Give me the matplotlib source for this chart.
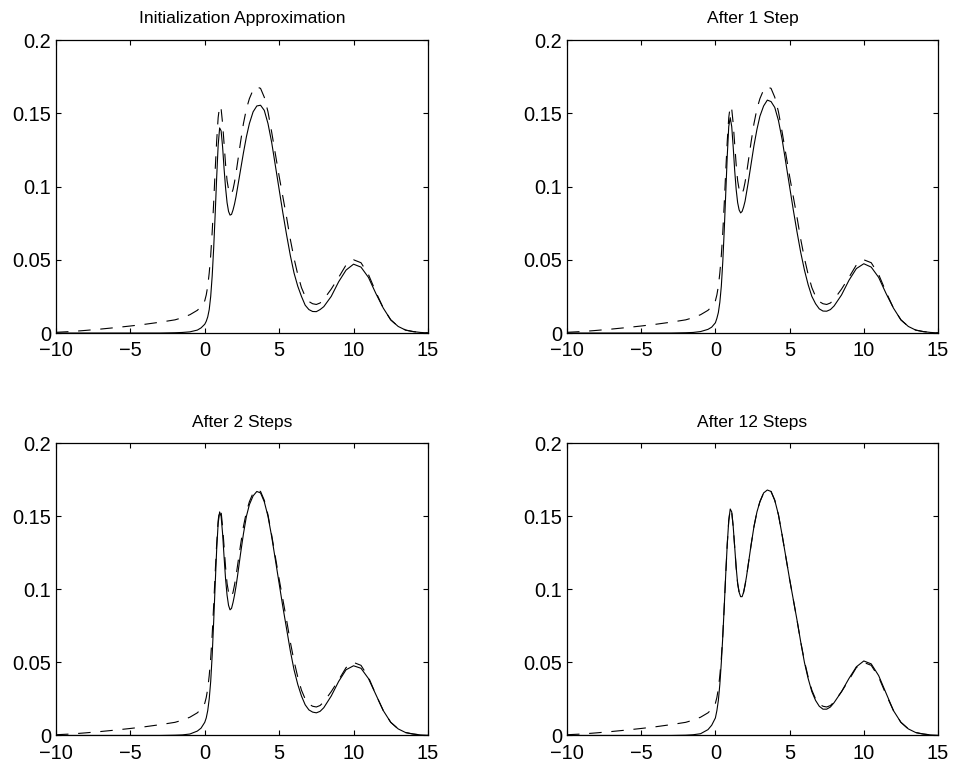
import matplotlib
matplotlib.use("Agg")
import matplotlib.pyplot as plt
from matplotlib.ticker import FixedLocator, FixedFormatter

plt.rcParams['font.family'] = ['Liberation Sans', 'DejaVu Sans']
plt.rcParams['lines.scale_dashes'] = False

# Sample positions shared by every curve
x = [-10, -9, -8, -7, -6, -5, -4, -3, -2, -1.5, -1, -0.5, -0.25,
     0.0, 0.1, 0.2, 0.3, 0.4, 0.5, 0.6, 0.7, 0.8, 0.9, 1.0, 1.1, 1.2, 1.3,
     1.4, 1.5, 1.6, 1.7, 1.8, 1.9, 2.0, 2.1, 2.2,
     2.4, 2.6, 2.8, 3.0,
     3.25, 3.5, 3.75, 4.0, 4.25, 4.5, 4.75, 5.0, 5.25, 5.5, 5.75, 6.0, 6.25,
     6.5, 6.75, 7.0, 7.25, 7.5, 7.75, 8.0,
     8.5, 9.0, 9.5, 10.0, 10.5, 11.0, 11.5, 12.0, 12.5, 13.0, 13.5, 14.0,
     14.5, 15.0]

# Target density (dashed)
target = [0.0005, 0.001, 0.0018, 0.0027, 0.0037, 0.0048, 0.006, 0.0074, 0.009,
          0.0105, 0.0125, 0.0155, 0.018,
          0.022, 0.026, 0.032, 0.041, 0.053, 0.069, 0.089, 0.111, 0.131, 0.147,
          0.155, 0.153, 0.143, 0.129, 0.115, 0.104, 0.098, 0.095, 0.095,
          0.098, 0.103, 0.109, 0.116,
          0.130, 0.143, 0.153, 0.160,
          0.166, 0.168, 0.167, 0.161, 0.151, 0.137, 0.122, 0.107, 0.093,
          0.079, 0.064, 0.051, 0.040, 0.031, 0.025, 0.0215, 0.020, 0.0195,
          0.0205, 0.023,
          0.030, 0.038, 0.0465, 0.050, 0.048, 0.040, 0.028, 0.017, 0.009,
          0.0045, 0.002, 0.001, 0.0004, 0.0001]

# Approximations after successive steps (solid)
init_approx = [0, 0, 0, 0, 0, 0, 0, 0, 0.0002, 0.0004, 0.0008, 0.002, 0.0035,
               0.006, 0.008, 0.011, 0.016, 0.025, 0.039, 0.058, 0.081, 0.106,
               0.128, 0.140, 0.138, 0.127, 0.112, 0.099, 0.089, 0.083, 0.0805,
               0.081, 0.084, 0.088, 0.093, 0.099,
               0.111, 0.123, 0.134, 0.143,
               0.151, 0.155, 0.1555, 0.152, 0.143, 0.130, 0.114, 0.098, 0.082,
               0.067, 0.053, 0.041, 0.032, 0.025, 0.019, 0.016, 0.0147, 0.0146,
               0.016, 0.018,
               0.025, 0.035, 0.043, 0.047, 0.045, 0.038, 0.027, 0.017, 0.009,
               0.0045, 0.002, 0.001, 0.0004, 0.0001]

step_1 = [0, 0, 0, 0, 0, 0, 0, 0, 0.0002, 0.0004, 0.001, 0.0025, 0.004,
          0.007, 0.010, 0.014, 0.021, 0.032, 0.049, 0.071, 0.096, 0.121, 0.141,
          0.147, 0.141, 0.127, 0.111, 0.098, 0.089, 0.084, 0.082, 0.083,
          0.086, 0.090, 0.096, 0.102,
          0.115, 0.128, 0.139, 0.148,
          0.155, 0.159, 0.158, 0.154, 0.145, 0.132, 0.116, 0.100, 0.084,
          0.069, 0.055, 0.043, 0.033, 0.025, 0.020, 0.0165, 0.015, 0.0149,
          0.016, 0.0185,
          0.026, 0.036, 0.044, 0.0473, 0.045, 0.038, 0.027, 0.017, 0.009,
          0.0045, 0.002, 0.001, 0.0004, 0.0001]

step_2 = [0, 0, 0, 0, 0, 0, 0, 0, 0.0002, 0.0004, 0.001, 0.003, 0.005,
          0.009, 0.012, 0.017, 0.025, 0.037, 0.055, 0.078, 0.103, 0.127, 0.145,
          0.153, 0.150, 0.138, 0.122, 0.107, 0.096, 0.089, 0.086, 0.087,
          0.091, 0.096, 0.102, 0.109,
          0.124, 0.138, 0.150, 0.158,
          0.164, 0.167, 0.166, 0.160, 0.150, 0.136, 0.120, 0.104, 0.088,
          0.073, 0.058, 0.045, 0.035, 0.027, 0.021, 0.0175, 0.016, 0.0155,
          0.0165, 0.019,
          0.027, 0.037, 0.045, 0.0477, 0.046, 0.039, 0.028, 0.017, 0.009,
          0.0045, 0.002, 0.001, 0.0004, 0.0001]

step_12 = [0, 0, 0, 0, 0, 0, 0, 0, 0.0002, 0.0005, 0.0012, 0.004, 0.007,
           0.012, 0.017, 0.024, 0.035, 0.050, 0.068, 0.089, 0.111, 0.131,
           0.147, 0.155, 0.153, 0.143, 0.129, 0.115, 0.104, 0.098, 0.095,
           0.095, 0.098, 0.103, 0.109, 0.116,
           0.130, 0.143, 0.153, 0.160,
           0.166, 0.168, 0.167, 0.161, 0.151, 0.137, 0.122, 0.107, 0.093,
           0.079, 0.064, 0.050, 0.039, 0.030, 0.024, 0.020, 0.018, 0.018,
           0.0195, 0.0225,
           0.030, 0.039, 0.047, 0.051, 0.049, 0.041, 0.029, 0.017, 0.009,
           0.0045, 0.002, 0.001, 0.0004, 0.0001]

titles = ["Initialization Approximation", "After 1 Step",
          "After 2 Steps", "After 12 Steps"]
approximations = [init_approx, step_1, step_2, step_12]

xticks = [-10, -5, 0, 5, 10, 15]
xtick_labels = ["\u221210", "\u22125", "0", "5", "10", "15"]
yticks = [0, 0.05, 0.1, 0.15, 0.2]
ytick_labels = ["0", "0.05", "0.1", "0.15", "0.2"]

fig = plt.figure(figsize=(9.55, 7.67), dpi=100)
fig.patch.set_facecolor("white")

panel_rects = [
    (0.0586, 0.5658, 0.3895, 0.382),
    (0.5937, 0.5658, 0.3885, 0.382),
    (0.0586, 0.0411, 0.3895, 0.381),
    (0.5937, 0.0411, 0.3885, 0.381),
]

for rect, title, approx in zip(panel_rects, titles, approximations):
    ax = fig.add_axes(rect)
    ax.plot(x, approx, color="black", lw=0.8, solid_joinstyle="round")
    ax.plot(x, target, color="black", lw=0.8, dashes=(9, 7))
    ax.set_xlim(-10, 15)
    ax.set_ylim(0, 0.2)
    ax.xaxis.set_major_locator(FixedLocator(xticks))
    ax.xaxis.set_major_formatter(FixedFormatter(xtick_labels))
    ax.yaxis.set_major_locator(FixedLocator(yticks))
    ax.yaxis.set_major_formatter(FixedFormatter(ytick_labels))
    ax.tick_params(direction="in", length=3.5, width=0.8, top=True, right=True,
                   labelsize=14.4)
    ax.tick_params(axis="x", pad=6)
    ax.tick_params(axis="y", pad=3.5)
    for s in ax.spines.values():
        s.set_linewidth(0.9)
    ax.set_title(title, fontsize=12.5, pad=12)

fig.savefig("out.png", dpi=100, facecolor="white")
